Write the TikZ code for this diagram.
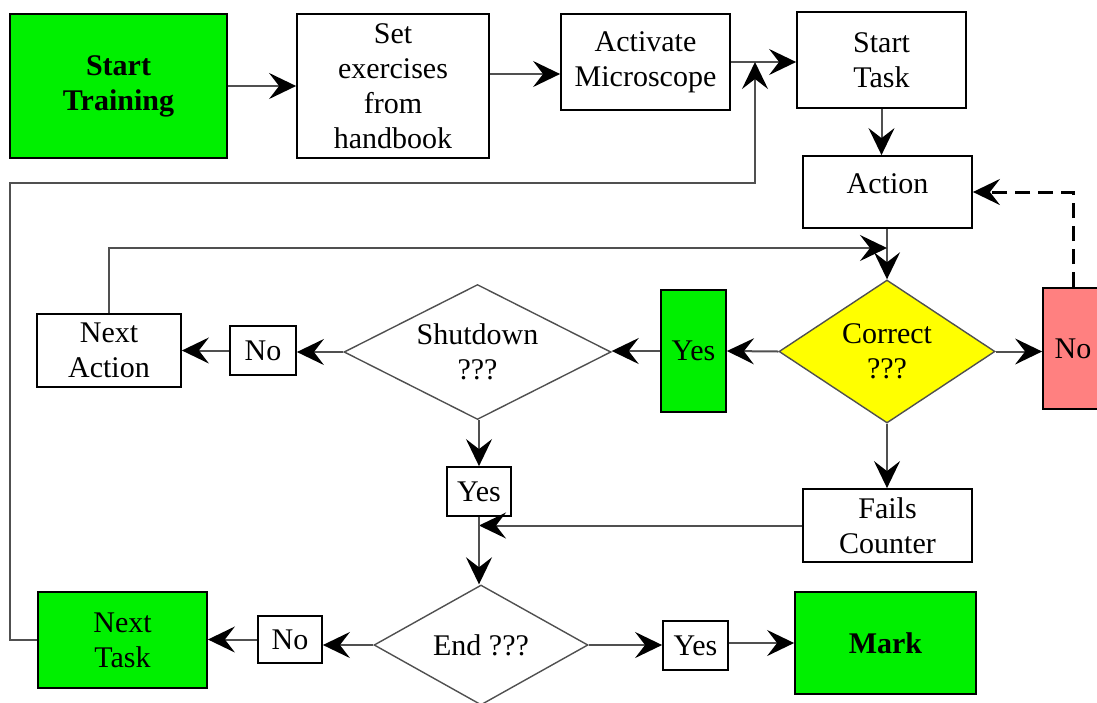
\documentclass[tikz,border=0pt]{standalone}
\usepackage{fontspec}
\setmainfont{Liberation Serif}
\usetikzlibrary{arrows.meta,shapes.geometric}

\definecolor{okgreen}{RGB}{0,240,0}
\definecolor{askyellow}{RGB}{255,255,0}
\definecolor{failred}{RGB}{255,128,128}
\definecolor{wire}{RGB}{80,80,80}

\tikzset{
  txt/.style={font=\fontsize{30}{35}\selectfont},
  box/.style={txt, draw=black, line width=1.8, fill=white, inner sep=0pt,
              align=center, minimum width=#1},
  box/.default=100,
  greenbox/.style={box=#1, fill=okgreen},
  greenbox/.default=100,
  decision/.style={txt, diamond, draw=wire, line width=1.4, fill=white,
                   inner sep=0pt, align=center},
  conn/.style={line width=2, draw=wire,
               -{Stealth[length=27, width=26, inset=10, color=black]}},
  dashconn/.style={line width=3, draw=black, dash pattern=on 15 off 8,
               -{Stealth[length=27, width=26, inset=10, color=black]}},
}

\begin{document}
\begin{tikzpicture}[x=1pt, y=-1pt]
\useasboundingbox[fill=white] (0,0) rectangle (1097,702);

% top row
\node[greenbox=217, minimum height=144, font=\fontsize{30}{35}\selectfont\bfseries]
  (start) at (118.5,86) {Start\\Training};
\node[box=192, minimum height=144] (set) at (393,86) {Set\\exercises\\from\\handbook};
\node[box=169, minimum height=96] (activate) at (645.5,62) {Activate\\Microscope};
\node[box=169, minimum height=96] (starttask) at (881.5,60) {Start\\Task};
\node[box=169, minimum height=72, text depth=17] (action) at (887.5,192) {Action};

% middle row
\node[decision, fill=askyellow, minimum width=216, minimum height=143, aspect=1.51]
  (correct) at (887,351.5) {Correct\\???};
\node[greenbox=65, minimum height=122] (yesA) at (693.5,351) {Yes};
\node[box=60, minimum height=121, fill=failred] (noA) at (1073,348.5) {No};
\node[decision, minimum width=267, minimum height=135, aspect=1.97]
  (shutdown) at (477.5,352) {Shutdown\\???};
\node[box=66, minimum height=49] (noB) at (263,350.5) {No};
\node[box=144, minimum height=73] (nextaction) at (109,350.5) {Next\\Action};
\node[box=169, minimum height=73] (fails) at (887.5,525.5) {Fails\\Counter};
\node[box=64, minimum height=49] (yesB) at (479,491.5) {Yes};

% bottom row
\node[decision, minimum width=214, minimum height=120, aspect=1.78]
  (enddia) at (481,645) {End ???};
\node[box=64, minimum height=47] (noC) at (290,639.5) {No};
\node[greenbox=169, minimum height=96] (nexttask) at (122.5,640) {Next\\Task};
\node[box=65, minimum height=49] (yesC) at (695.5,645.5) {Yes};
\node[greenbox=181, minimum height=102, font=\fontsize{30}{35}\selectfont\bfseries]
  (mark) at (885.5,643) {Mark};

% junction points of the loop-back lines
\coordinate (jr) at (755,183);
\coordinate (jn) at (887,248);

% connectors
\draw[conn] (start.east) -- (set.west);
\draw[conn] (set.east |- 0,74) -- (activate.west |- 0,74);
\draw[conn] (activate.east) -- (activate.east -| starttask.west);
\draw[conn] (nexttask.west) -- (10,640) |- (jr) -- (jr |- activate.east);
\draw[conn] (starttask.south) -- (starttask.south |- action.north);
\draw[conn] (action.south -| correct.north) -- (correct.north);
\draw[conn] (nextaction.north) |- (jn);
\draw[conn] (correct.west) -- (yesA.east);
\draw[conn] (yesA.west) -- (yesA.west -| shutdown.east);
\draw[conn] (correct.east) -- (correct.east -| noA.west);
\draw[dashconn] (noA.north) |- (action.east);
\draw[conn] (correct.south) -- (fails.north -| correct.south);
\draw[conn] (fails.west) -- (fails.west -| yesB.south);
\draw[conn] (shutdown.west) -- (shutdown.west -| noB.east);
\draw[conn] (noB.west) -- (noB.west -| nextaction.east);
\draw[conn] (yesB.north |- shutdown.south) -- (yesB.north);
\draw[conn] (yesB.south) -- (yesB.south |- enddia.north);
\draw[conn] (enddia.west) -- (enddia.west -| noC.east);
\draw[conn] (noC.west) -- (noC.west -| nexttask.east);
\draw[conn] (enddia.east) -- (enddia.east -| yesC.west);
\draw[conn] (yesC.east |- 0,643) -- (mark.west);
\end{tikzpicture}
\end{document}
